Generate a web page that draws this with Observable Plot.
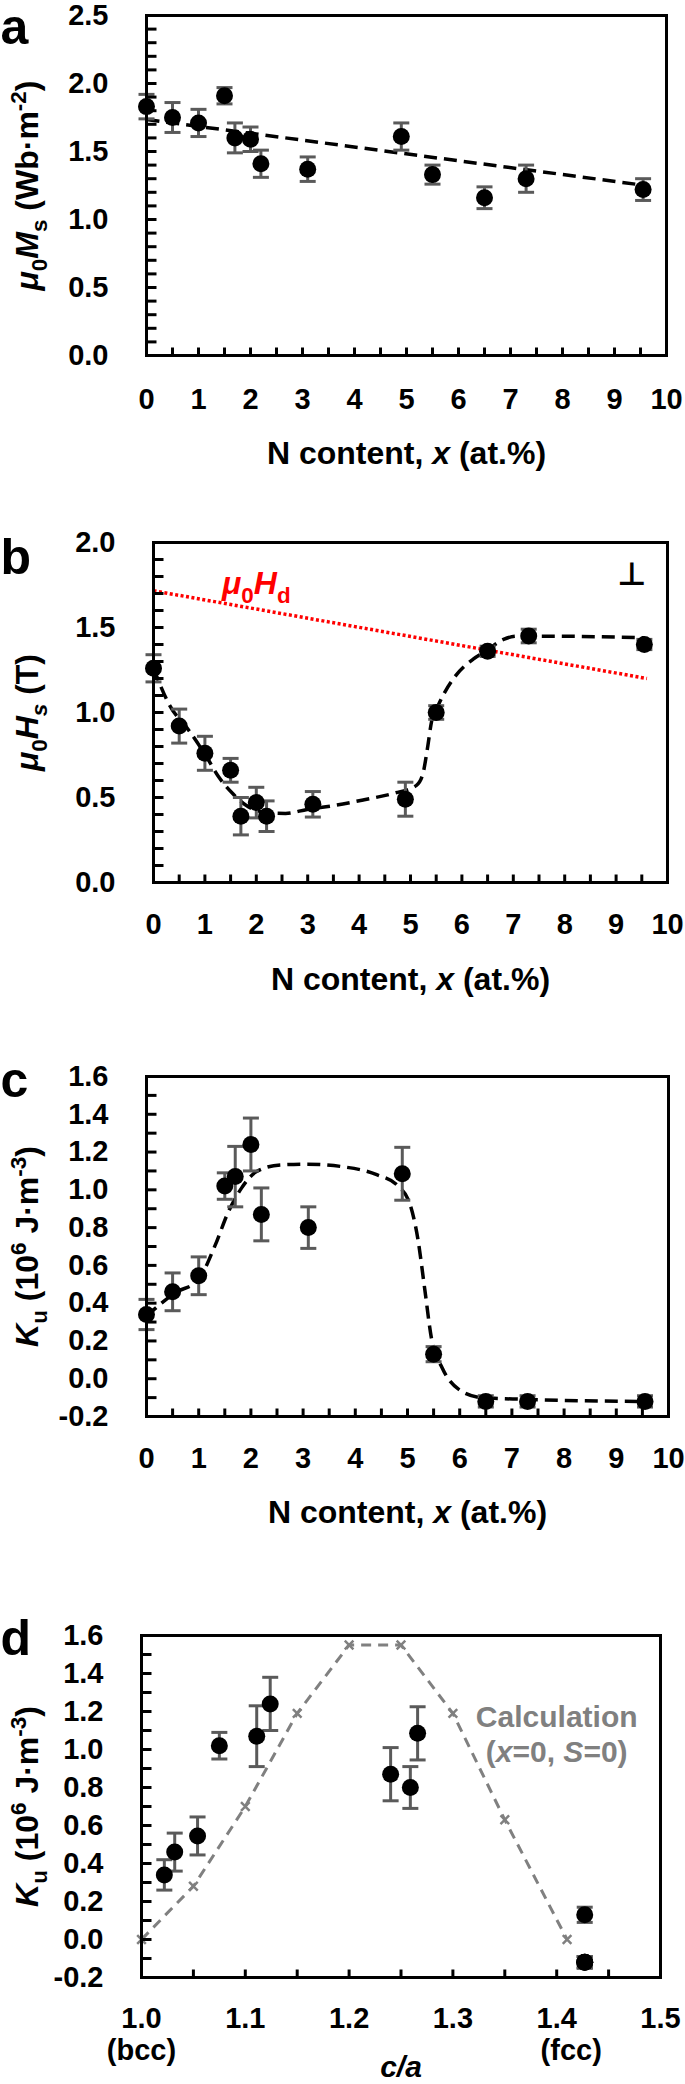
<!DOCTYPE html>
<html><head><meta charset="utf-8">
<script src="https://cdn.jsdelivr.net/npm/d3@7"></script>
<script src="https://cdn.jsdelivr.net/npm/@observablehq/plot@0.6"></script>
<style>body{margin:0;background:#fff;width:685px} svg{display:block}</style>
</head><body><div id="chart"></div>
<script>
// ---------- data ----------
const nContent = [0, 0.5, 1.0, 1.5, 1.7, 2.0, 2.2, 3.1, 4.9, 5.5, 6.5, 7.3, 9.55];
const msValues = [1.83, 1.75, 1.71, 1.91, 1.60, 1.59, 1.41, 1.37, 1.61, 1.33, 1.16, 1.30, 1.22];
const msErrors = [0.09, 0.11, 0.10, 0.06, 0.11, 0.09, 0.10, 0.09, 0.10, 0.07, 0.08, 0.10, 0.08];
const msFitX = [0, 9.6];
const msFitY = [1.735, 1.25];

const hsValues = [1.26, 0.92, 0.76, 0.66, 0.39, 0.47, 0.39, 0.46, 0.49, 1.00, 1.36, 1.45, 1.40];
const hsErrors = [0.08, 0.10, 0.10, 0.07, 0.11, 0.09, 0.09, 0.075, 0.10, 0.04, 0.03, 0.04, 0.03];
const hsCurveX = [0, 0.3, 0.7, 1.04, 1.27, 1.55, 1.8, 2.23, 2.57, 2.99, 3.5, 4.1, 4.69, 5.11, 5.24, 5.33, 5.41, 5.54, 5.88, 6.22, 6.47, 6.81, 7.07, 7.67, 9.55];
const hsCurveY = [1.26, 1.05, 0.89, 0.735, 0.62, 0.52, 0.454, 0.41, 0.406, 0.43, 0.452, 0.487, 0.526, 0.57, 0.638, 0.79, 0.947, 1.043, 1.217, 1.314, 1.362, 1.43, 1.449, 1.449, 1.44];
const hdLineX = [0, 9.6];
const hdLineY = [1.716, 1.20];
const hdLabel = [{x: 2.0, y: 1.76}];
const perpLabel = [{x: 9.3, y: 1.81}];

const kuValues = [0.34, 0.46, 0.545, 1.02, 1.07, 1.24, 0.87, 0.80, 1.085, 0.13, -0.12, -0.12, -0.12];
const kuErrors = [0.08, 0.10, 0.10, 0.07, 0.16, 0.14, 0.14, 0.11, 0.14, 0.04, 0.03, 0.03, 0.03];
const kuCurveX = [0, 0.56, 0.98, 1.31, 1.56, 1.82, 2.11, 2.57, 3.07, 3.74, 4.41, 4.83, 5.04, 5.2, 5.33, 5.46, 5.67, 6.0, 6.42, 7.25, 9.55];
const kuCurveY = [0.33, 0.457, 0.519, 0.703, 0.878, 1.009, 1.097, 1.132, 1.136, 1.123, 1.08, 1.018, 0.93, 0.738, 0.475, 0.212, 0.054, -0.06, -0.1, -0.109, -0.121];

const caRatio = [1.022, 1.032, 1.054, 1.075, 1.111, 1.124, 1.240, 1.259, 1.266, 1.427, 1.427, 1.427, 1.427];
const calcCa = [1.0, 1.05, 1.1, 1.15, 1.2, 1.25, 1.3, 1.35, 1.41];
const calcKu = [0, 0.28, 0.70, 1.19, 1.55, 1.55, 1.19, 0.63, 0.0];
const calcLabel = [{x: 1.400, y: 1.168, t: "Calculation"}, {x: 1.400, y: 0.984, t: "__CALC2__"}];
const phaseLabels = [{x: 1.0, t: "(bcc)"}, {x: 1.414, t: "(fcc)"}];

const xTicksN = [0,1,2,3,4,5,6,7,8,9,10];
const yTicksA = [0, 0.5, 1.0, 1.5, 2.0, 2.5];
const yTicksB = [0, 0.5, 1.0, 1.5, 2.0];
const yTicksK = [-0.2, 0, 0.2, 0.4, 0.6, 0.8, 1.0, 1.2, 1.4, 1.6];
const xTicksCa = [1.0, 1.1, 1.2, 1.3, 1.4, 1.5];

// ---------- style ----------
const FONT = '"Liberation Sans", Arial, Helvetica, sans-serif';
const GRAY = "#5a5a5a";
const CALC = "#808080";
const TS = 29;   // tick label size
const LS = 32;   // axis title size

const tickRight = {draw(c){ c.moveTo(0,0); c.lineTo(10,0); }};
const tickUp = {draw(c){ c.moveTo(0,0); c.lineTo(0,-8); }};
const cap = {draw(c){ c.moveTo(-8,0); c.lineTo(8,0); }};

function rows(xs, ys, es){ return xs.map((x,i)=>({x, y: ys[i], e: es ? es[i] : 0})); }

function errMarks(data){
  return [
    Plot.ruleX(data, {x:"x", y1:d=>d.y-d.e, y2:d=>d.y+d.e, stroke:GRAY, strokeWidth:3}),
    Plot.dot(data, {x:"x", y:d=>d.y+d.e, symbol:cap, fill:"none", stroke:GRAY, strokeWidth:3}),
    Plot.dot(data, {x:"x", y:d=>d.y-d.e, symbol:cap, fill:"none", stroke:GRAY, strokeWidth:3}),
    Plot.dot(data, {x:"x", y:"y", r:8.5, fill:"black", stroke:"none"})
  ];
}

function frameMarks(cfg){
  return [
    Plot.dot(cfg.yMinor, {y:d=>d, frameAnchor:"left", symbol:tickRight, fill:"none", stroke:"black", strokeWidth:3}),
    Plot.dot(cfg.xMinor, {x:d=>d, frameAnchor:"bottom", symbol:tickUp, fill:"none", stroke:"black", strokeWidth:3}),
    Plot.frame({stroke:"black", strokeWidth:3}),
    Plot.text(cfg.yTicks, {y:d=>d, frameAnchor:"left", dx:-38, textAnchor:"end", lineAnchor:"middle", text:d=>d.toFixed(1), fontSize:TS, fontWeight:"bold"}),
    Plot.text(cfg.xTicks, {x:d=>d, frameAnchor:"bottom", dy:cfg.xdy, textAnchor:"middle", lineAnchor:"middle", text:cfg.xFmt, fontSize:TS, fontWeight:"bold"}),
    Plot.text([cfg.letter], {frameAnchor:"top-left", dx:-cfg.ml, dy:cfg.letterDy, textAnchor:"start", lineAnchor:"middle", fontSize:50, fontWeight:"bold", text:d=>d}),
    Plot.text(["__YT__"], {frameAnchor:"left", dx:-(cfg.ml-27), rotate:-90, textAnchor:"middle", lineAnchor:"middle", fontSize:LS, fontWeight:"bold", text:d=>d}),
  ];
}

function rich(svg, key, parts, size){
  const t = Array.from(svg.querySelectorAll("text")).find(e => e.textContent === key);
  if (!t) return;
  t.textContent = "";
  let shift = 0;
  for (const p of parts){
    const ts = document.createElementNS("http://www.w3.org/2000/svg", "tspan");
    ts.textContent = p.t;
    if (p.i) ts.setAttribute("font-style", "italic");
    let target = 0, fs = size;
    if (p.sub){ target = size*0.28; fs = size*0.7; }
    if (p.sup){ target = -size*0.38; fs = size*0.7; }
    if (fs !== size) ts.setAttribute("font-size", fs);
    const d = target - shift;
    if (d) ts.setAttribute("dy", d);
    shift = target;
    t.appendChild(ts);
  }
}

function basePlot(cfg, marks){
  return Plot.plot({
    width: 685, height: cfg.h,
    marginTop: cfg.mt, marginBottom: cfg.mb, marginLeft: cfg.ml, marginRight: cfg.mr,
    x: {domain: cfg.xDomain, axis: null},
    y: {domain: cfg.yDomain, axis: null},
    style: {fontFamily: FONT, background: "white", color: "black", overflow: "visible"},
    marks
  });
}

const DASH = {stroke:"black", strokeWidth:3.5, strokeDasharray:"13,7", strokeLinecap:"butt"};
const xTitleParts = [{t:"N content, "}, {t:"x", i:true}, {t:" (at.%)"}];
const root = document.getElementById("chart");

// ---------- panel a ----------
{
  const cfg = {h:525, mt:15, mb:170, ml:146, mr:19, xDomain:[0,10], yDomain:[0,2.5],
    yTicks:yTicksA, xTicks:xTicksN, xFmt:d=>String(d), xdy:44, letter:"a", letterDy:12,
    yMinor:d3.range(1,25).map(i=>i/10), xMinor:d3.range(1,20).map(i=>i/2)};
  const svg = basePlot(cfg, [
    Plot.line(rows(msFitX, msFitY), {x:"x", y:"y", ...DASH}),
    ...errMarks(rows(nContent, msValues, msErrors)),
    ...frameMarks(cfg),
    Plot.text(["__XT__"], {frameAnchor:"bottom", dy:98, lineAnchor:"middle", fontSize:LS, fontWeight:"bold", text:d=>d}),
  ]);
  rich(svg, "__XT__", xTitleParts, LS);
  rich(svg, "__YT__", [{t:"μ", i:true},{t:"0", sub:true},{t:"M", i:true},{t:"s", sub:true},{t:" (Wb·m"},{t:"-2", sup:true},{t:")"}], LS);
  root.appendChild(svg);
}

// ---------- panel b ----------
{
  const cfg = {h:533, mt:17, mb:176, ml:153, mr:18, xDomain:[0,10], yDomain:[0,2.0],
    yTicks:yTicksB, xTicks:xTicksN, xFmt:d=>String(d), xdy:42, letter:"b", letterDy:15,
    yMinor:d3.range(1,20).map(i=>i/10), xMinor:d3.range(1,20).map(i=>i/2)};
  const svg = basePlot(cfg, [
    Plot.line(rows(hdLineX, hdLineY), {x:"x", y:"y", stroke:"#ff0000", strokeWidth:3.5, strokeDasharray:"3,2.5", strokeLinecap:"butt"}),
    Plot.line(rows(hsCurveX, hsCurveY), {x:"x", y:"y", curve:"monotone-x", ...DASH}),
    ...errMarks(rows(nContent, hsValues, hsErrors)),
    Plot.text(hdLabel, {x:"x", y:"y", text:()=>"__HD__", fontSize:LS, fontWeight:"bold", fill:"#ff0000"}),
    Plot.text(perpLabel, {x:"x", y:"y", text:()=>"⊥", fontSize:32, fontWeight:"bold", fontFamily:"DejaVu Sans"}),
    ...frameMarks(cfg),
    Plot.text(["__XT__"], {frameAnchor:"bottom", dy:97, lineAnchor:"middle", fontSize:LS, fontWeight:"bold", text:d=>d}),
  ]);
  rich(svg, "__XT__", xTitleParts, LS);
  rich(svg, "__YT__", [{t:"μ", i:true},{t:"0", sub:true},{t:"H", i:true},{t:"s", sub:true, i:true},{t:" (T)"}], LS);
  rich(svg, "__HD__", [{t:"μ", i:true},{t:"0", sub:true},{t:"H", i:true},{t:"d", sub:true}], LS);
  root.appendChild(svg);
}

// ---------- panel c ----------
const kuTitle = [{t:"K", i:true},{t:"u", sub:true},{t:" (10"},{t:"6", sup:true},{t:" J·m"},{t:"-3", sup:true},{t:")"}];
{
  const cfg = {h:532, mt:18, mb:174, ml:146, mr:17, xDomain:[0,10], yDomain:[-0.2,1.6],
    yTicks:yTicksK, xTicks:xTicksN, xFmt:d=>String(d), xdy:42, letter:"c", letterDy:4,
    yMinor:d3.range(-1,16).map(i=>i/10), xMinor:d3.range(1,20).map(i=>i/2)};
  const svg = basePlot(cfg, [
    Plot.line(rows(kuCurveX, kuCurveY), {x:"x", y:"y", curve:"monotone-x", ...DASH}),
    ...errMarks(rows(nContent, kuValues, kuErrors)),
    ...frameMarks(cfg),
    Plot.text(["__XT__"], {frameAnchor:"bottom", dy:96, lineAnchor:"middle", fontSize:LS, fontWeight:"bold", text:d=>d}),
  ]);
  rich(svg, "__XT__", xTitleParts, LS);
  rich(svg, "__YT__", kuTitle, LS);
  root.appendChild(svg);
}

// ---------- panel d ----------
{
  const cfg = {h:494, mt:45, mb:107, ml:141, mr:25, xDomain:[1.0,1.5], yDomain:[-0.2,1.6],
    yTicks:yTicksK, xTicks:xTicksCa, xFmt:d=>d.toFixed(1), xdy:41, letter:"d", letterDy:3,
    yMinor:d3.range(-1,16).map(i=>i/10), xMinor:d3.range(1,10).map(i=>1+i*0.05)};
  const svg = basePlot(cfg, [
    Plot.line(rows(calcCa, calcKu), {x:"x", y:"y", stroke:CALC, strokeWidth:3, strokeDasharray:"10,7", strokeLinecap:"butt"}),
    Plot.dot(rows(calcCa, calcKu), {x:"x", y:"y", symbol:"times", r:4, stroke:CALC, strokeWidth:2.5}),
    ...errMarks(rows(caRatio, kuValues, kuErrors)),
    Plot.text(calcLabel, {x:"x", y:"y", text:"t", lineAnchor:"middle", fontSize:30, fontWeight:"bold", fill:CALC}),
    ...frameMarks(cfg),
    Plot.text(phaseLabels, {x:"x", frameAnchor:"bottom", dy:73, lineAnchor:"middle", text:"t", fontSize:TS, fontWeight:"bold"}),
    Plot.text(["__CA__"], {frameAnchor:"bottom", dy:90, lineAnchor:"middle", fontSize:30, fontWeight:"bold", text:d=>d}),
  ]);
  rich(svg, "__YT__", kuTitle, LS);
  rich(svg, "__CA__", [{t:"c/a", i:true}], 30);
  rich(svg, "__CALC2__", [{t:"("},{t:"x", i:true},{t:"=0, "},{t:"S", i:true},{t:"=0)"}], 30);
  root.appendChild(svg);
}
</script>
</body></html>
